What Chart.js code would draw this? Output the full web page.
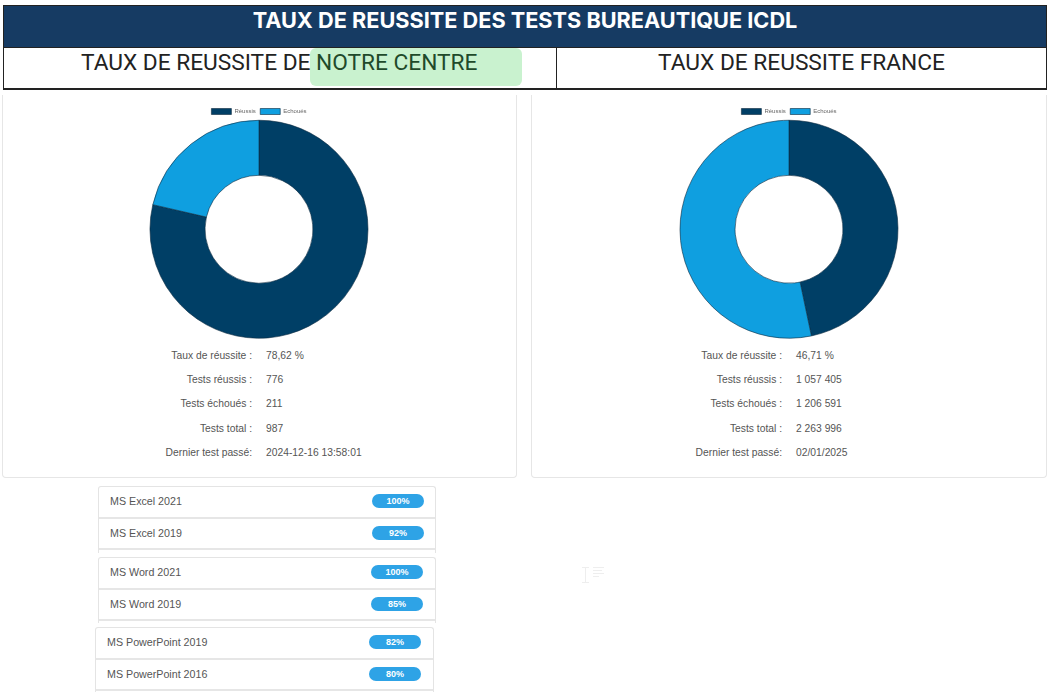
<!DOCTYPE html>
<html>
<head>
<meta charset="utf-8">
<script src="https://cdn.jsdelivr.net/npm/chart.js@4/dist/chart.umd.min.js"></script>
<style>
html,body{margin:0;padding:0;background:#fff;overflow:hidden}
body{width:1051px;height:698px;position:relative;font-family:"Liberation Sans",Arial,sans-serif;color:#555}
.abs{position:absolute;box-sizing:border-box}
#banner{left:3px;top:5px;width:1044px;height:43px;background:#163b63;border:1px solid #222;color:#fff;font:bold 21.7px/29px Inter,Roboto,sans-serif;text-align:center}
.head{top:47px;height:43px;border:1.5px solid #222;border-bottom-width:2px;background:#fff;color:#222;font:22.7px/30px Roboto,sans-serif;text-align:center}
#headL{left:3px;width:554px}
#headR{left:556px;width:491px}
#mark{left:310px;top:48px;width:212px;height:38px;background:#c9f2cf;border-radius:6px}
#markText{left:316px;top:49px;color:#1f4a2a;font:22.7px/28px Roboto,sans-serif;white-space:nowrap}
.card{top:95px;height:383px;border:1px solid #e6e6e6;border-top:none;border-radius:0 0 4px 4px;background:#fff}
#cardL{left:2px;width:515px}
#cardR{left:531px;width:516px}
.chartBox{top:104px;height:240px}
.row{font-size:10.3px;line-height:14px;white-space:nowrap}
.lab{text-align:right;width:160px}
.list{background:#fff;border:1px solid #e4e4e4;border-bottom:none;border-radius:3px 3px 0 0}
.item{position:absolute;left:0;right:0;height:31.5px;border-bottom:2px solid #e6e6e6;box-sizing:border-box;font-size:10.7px;line-height:29px;padding-left:11px;color:#555}
.pill{position:absolute;top:7px;width:52px;height:14px;border-radius:7px;background:#2ea3e6;color:#fff;font:bold 9px/14px "Liberation Sans",sans-serif;text-align:center}
.cursor{background:#eee}
</style>
</head>
<body>
<div class="abs card" id="cardL"></div>
<div class="abs card" id="cardR"></div>
<div class="abs" id="banner">TAUX DE REUSSITE DES TESTS BUREAUTIQUE ICDL</div>
<div class="abs head" id="headL"></div>
<div class="abs head" id="headR">TAUX DE REUSSITE FRANCE</div>
<div class="abs" id="mark"></div>
<div class="abs" style="left:81px;top:49px;color:#222;font:22.7px/28px Roboto,sans-serif;white-space:nowrap">TAUX DE REUSSITE DE</div>
<div class="abs" id="markText">NOTRE CENTRE</div>
<div class="abs chartBox" style="left:3px;width:512px"><canvas id="chartL"></canvas></div>
<div class="abs chartBox" style="left:533px;width:512px"><canvas id="chartR"></canvas></div>
<div id="stats"></div>
<div id="lists"></div>
<div class="abs cursor" style="left:582px;top:567px;width:7px;height:1px"></div>
<div class="abs cursor" style="left:585px;top:567px;width:1px;height:15px"></div>
<div class="abs cursor" style="left:582px;top:582px;width:7px;height:1px"></div>
<div class="abs cursor" style="left:593px;top:567px;width:11px;height:1px"></div>
<div class="abs cursor" style="left:593px;top:570px;width:9px;height:1px"></div>
<div class="abs cursor" style="left:593px;top:573px;width:11px;height:1px"></div>
<div class="abs cursor" style="left:593px;top:576px;width:6px;height:1px"></div>
<script>
var labels = ["Réussis", "Echoués"]
var colors = ["#003f66", "#0f9fe0"]
var centreValues = [776, 211]
var franceValues = [1057405, 1206591]

var statLabels = ["Taux de réussite :", "Tests réussis :", "Tests échoués :", "Tests total :", "Dernier test passé:"]
var centreStats = ["78,62 %", "776", "211", "987", "2024-12-16 13:58:01"]
var franceStats = ["46,71 %", "1 057 405", "1 206 591", "2 263 996", "02/01/2025"]

var excelNames = ["MS Excel 2021", "MS Excel 2019"]
var excelScores = ["100%", "92%"]
var wordNames = ["MS Word 2021", "MS Word 2019"]
var wordScores = ["100%", "85%"]
var pptNames = ["MS PowerPoint 2019", "MS PowerPoint 2016"]
var pptScores = ["82%", "80%"]

function donut(id, values){
    var canvas = document.getElementById(id)
    canvas.width = 512
    canvas.height = 240
    new Chart(canvas, {
        type: "doughnut",
        data: {
            labels: labels,
            datasets: [{data: values, backgroundColor: colors, borderColor: "#0b2a3f", borderWidth: 0.6, clip: false}]
        },
        options: {
            responsive: false,
            animation: false,
            radius: 109,
            cutout: "49.5%",
            layout: {padding: {bottom: 10}},
            plugins: {
                legend: {
                    position: "top",
                    labels: {boxWidth: 20, boxHeight: 6, font: {size: 6, family: "Liberation Sans"}, color: "#666", padding: 4.5}
                },
                tooltip: {enabled: false}
            }
        }
    })
}
donut("chartL", centreValues)
donut("chartR", franceValues)

function addStats(x, values){
    var box = document.getElementById("stats")
    for (var i = 0; i < statLabels.length; i++){
        var y = 349 + i * 24.2
        box.insertAdjacentHTML("beforeend",
            '<div class="abs row lab" style="left:' + (x - 8) + 'px;top:' + y + 'px;width:160px">' + statLabels[i] + '</div>' +
            '<div class="abs row" style="left:' + (x + 166) + 'px;top:' + y + 'px">' + values[i] + '</div>')
    }
}
addStats(100, centreStats)
addStats(630, franceStats)

function addList(x, y, w, h, pillRight, names, scores){
    var html = '<div class="abs list" style="left:' + x + 'px;top:' + y + 'px;width:' + w + 'px;height:' + h + 'px">'
    for (var i = 0; i < names.length; i++){
        html += '<div class="item" style="top:' + (i * 31.5) + 'px">' + names[i] +
            '<span class="pill" style="right:' + pillRight + 'px">' + scores[i] + '</span></div>'
    }
    document.getElementById("lists").insertAdjacentHTML("beforeend", html + '</div>')
}
addList(98, 486, 338, 67, 11, excelNames, excelScores)
addList(98, 557, 338, 66, 12, wordNames, wordScores)
addList(95, 627, 339, 65, 12, pptNames, pptScores)
</script>
</body>
</html>
